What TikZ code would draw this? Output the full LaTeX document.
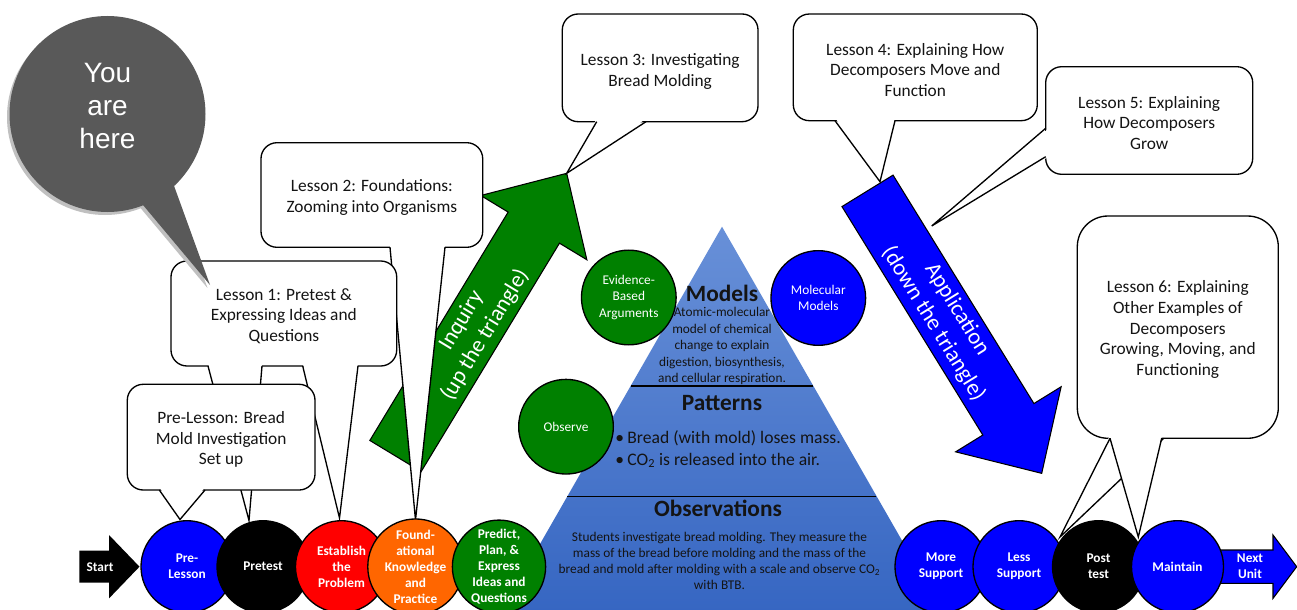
\documentclass[tikz,border=0pt]{standalone}
\usepackage{fontspec}
\setmainfont{Carlito}
\newfontfamily\arialfont{Liberation Sans}
\definecolor{bubblegray}{RGB}{89,89,89}
\definecolor{bubbleshade}{RGB}{192,192,192}
\definecolor{stepgreen}{RGB}{0,128,0}
\definecolor{stepblue}{RGB}{0,0,255}
\definecolor{steporange}{RGB}{255,102,0}
\definecolor{stepred}{RGB}{255,0,0}
\definecolor{pyrtop}{RGB}{104,144,216}
\definecolor{pyrbot}{RGB}{54,102,194}
\definecolor{ink}{RGB}{20,20,20}

% wedge tail of a callout: left base x, right base x, base y, tip
\newcommand{\calltail}[4]{%
  \fill[white] (#1,#3-3) -- (#4) -- (#2,#3-3) -- cycle;
  \draw[tailedge] (#1,#3) -- (#4) -- (#2,#3);}

\begin{document}
\begin{tikzpicture}[x=0.75pt,y=-0.75pt,
  callout/.style={draw=black, line width=1pt, fill=white, rounded corners=12pt, inner sep=0pt},
  callouttext/.style={inner sep=0pt, align=center, text=ink, yshift=-1.9pt,
    font=\fontsize{13}{15.5}\selectfont},
  tailedge/.style={draw=black, line width=1pt, line join=miter},
  stepdot/.style={circle, draw=black, line width=1pt, minimum size=69pt, inner sep=0pt,
    text=white, align=center, font=\bfseries\fontsize{10}{12}\selectfont},
  sidedot/.style={circle, draw=black, line width=1pt, minimum size=71pt, inner sep=0pt,
    text=white, align=center, font=\fontsize{10}{12.2}\selectfont},
  bigarrow/.style={draw=black, line width=0.8pt, line join=miter},
  arrowtext/.style={text=white, inner sep=0pt, font=\fontsize{17}{20.5}\selectfont},
  pyrhead/.style={font=\bfseries\fontsize{17.5}{20}\selectfont, text=ink, anchor=base, inner sep=0pt},
  pyrbody/.style={font=\fontsize{10}{12.4}\selectfont, text=ink, align=center, inner sep=0pt},
]
\useasboundingbox (0,0) rectangle (1297,610);
\clip (0,0) rectangle (1297,610);
\fill[white] (0,0) rectangle (1297,610);

% ---------- pyramid ----------
\shade[top color=pyrtop, bottom color=pyrbot] (722,226.7) -- (943,612) -- (501,612) -- cycle;
\draw[line width=1pt] (630.7,386) -- (813.3,386);
\draw[line width=1pt] (567,496.7) -- (876.4,496.7);

% ---------- big inquiry / application arrows ----------
\begin{scope}[shift={(395.5,456)}, rotate=58.8]
  \draw[bigarrow, fill=stepgreen] (0,-30) -- (267,-30) -- (267,-62) -- (330.5,0)
    -- (267,62) -- (267,30) -- (0,30) -- cycle;
\end{scope}
\begin{scope}[shift={(867.5,190.85)}, rotate=-58.34]
  \draw[bigarrow, fill=stepblue] (0,-30) -- (268.4,-30) -- (268.4,-62) -- (331.9,0)
    -- (268.4,62) -- (268.4,30) -- (0,30) -- cycle;
\end{scope}

% ---------- tail tips ----------
\coordinate (tipL3) at (566.7,173.3);
\coordinate (tipL4) at (880,181.7);
\coordinate (tipL5) at (931.7,226);
\coordinate (tipL2) at (415.5,520);
\coordinate (tipL1a) at (249,520.5);
\coordinate (tipL1b) at (339.5,518);
\coordinate (tipPre) at (180,519.5);
\coordinate (tipL6a) at (1138.3,537);
\coordinate (tipL6b) at (1060,537);

% ---------- lesson callouts ----------
\node[callout, minimum width=146.8pt, minimum height=80.8pt] (l3) at (660.15,67.85) {};
\calltail{596.7}{646}{121.7}{tipL3}
\node[callouttext, yshift=-0.8pt] (l3text) at (l3) {Lesson 3: Investigating\\Bread Molding};

\node[callout, minimum width=183pt, minimum height=80pt] (l4) at (915.3,67.35) {};
\calltail{835}{895}{120.7}{tipL4}
\node[callouttext] (l4text) at (l4) {Lesson 4: Explaining How\\Decomposers Move and\\Function};

\node[callout, minimum width=155.25pt, minimum height=80.7pt] (l5) at (1149.2,120.5) {};
\fill[white] (1048.7,128.3) -- (tipL5) -- (1048.7,156.7) -- cycle;
\draw[tailedge] (1045.7,128.3) -- (tipL5) -- (1045.7,156.7);
\node[callouttext] (l5text) at (l5) {Lesson 5: Explaining\\How Decomposers\\Grow};

\node[callout, minimum width=166.3pt, minimum height=78.45pt] (l2) at (371.85,195) {};
\calltail{390}{445}{247.3}{tipL2}
\node[callouttext] (l2text) at (l2) {Lesson 2: Foundations:\\Zooming into Organisms};

\node[callout, minimum width=169.3pt, minimum height=78.75pt] (l1) at (283.85,313.5) {};
\calltail{208}{262}{366}{tipL1a}
\calltail{302.7}{358}{366}{tipL1b}
\node[callouttext] (l1text) at (l1) {Lesson 1: Pretest \&\\Expressing Ideas and\\Questions};

\node[callout, minimum width=140.8pt, minimum height=79.3pt] (pre) at (221.15,437.15) {};
\calltail{159.3}{205}{490}{tipPre}
\node[callouttext] (pretext) at (pre) {Pre-Lesson: Bread\\Mold Investigation\\Set up};

\node[callout, rounded corners=23pt, minimum width=150.75pt, minimum height=166.7pt] (l6)
  at (1177.8,327.15) {};
\calltail{1110}{1163.7}{438.3}{tipL6b}
\calltail{1110}{1161.7}{438.3}{tipL6a}
\node[callouttext] (l6text) at (l6)
  {Lesson 6: Explaining\\Other Examples of\\Decomposers\\Growing, Moving, and\\Functioning};

% ---------- "you are here" bubble ----------
\begin{scope}[shift={(-2.5,3)}]
  \fill[bubbleshade] (107.5,114) circle[radius=73.5pt];
  \fill[bubbleshade] (173,183) -- (210,285) -- (143,205) -- cycle;
\end{scope}
\fill[bubblegray] (107.5,114) circle[radius=73.5pt];
\fill[bubblegray] (173,183) -- (210,285) -- (143,205) -- cycle;
\node[text=white, align=center, inner sep=0pt, font=\arialfont\fontsize{21}{25}\selectfont]
  (here) at (107.5,106) {You\\are\\here};

% ---------- circles around the pyramid ----------
\node[sidedot, fill=stepgreen] (evidence) at (628.8,297.5) {Evidence-\\Based\\Arguments};
\node[sidedot, fill=stepblue] (molecular) at (818.3,298) {Molecular\\Models};
\node[sidedot, fill=stepgreen] (observe) at (566,426.7) {Observe};

% ---------- pyramid text ----------
\node[pyrhead] (models) at (722,301.7) {Models};
\node[pyrbody] (modelstext) at (722,346.3)
  {Atomic-molecular\\model of chemical\\change to explain\\digestion, biosynthesis,\\and cellular respiration.};
\node[pyrhead] (patterns) at (722,410.5) {Patterns};
\node[anchor=west, inner sep=0pt, align=left, text=ink, font=\fontsize{13.2}{16.3}\selectfont]
  (patternstext) at (615,449.2)
  {\textbullet\hspace{2.5pt}Bread (with mold) loses mass.\\\textbullet\hspace{2.5pt}CO\textsubscript{2} is released into the air.};
\node[pyrhead] (observations) at (718,516.7) {Observations};
\node[pyrbody, font=\fontsize{10}{12.1}\selectfont] (obstext) at (719.5,561)
  {Students investigate bread molding. They measure the\\mass of the bread before molding and the mass of the\\bread and mold after molding with a scale and observe CO\textsubscript{2}\\with BTB.};

% ---------- start / next unit arrows ----------
\fill[black] (79.3,550.7) -- (109,550.7) -- (109,535) -- (139.5,566.7) -- (109,598.4)
  -- (109,582.7) -- (79.3,582.7) -- cycle;
\node[text=white, inner sep=0pt, font=\bfseries\fontsize{10}{12}\selectfont] (start) at (100,566.7) {Start};
\draw[bigarrow, fill=stepblue] (1215,550) -- (1273,550) -- (1273,535) -- (1296.7,566.7)
  -- (1273,598.4) -- (1273,583.4) -- (1215,583.4) -- cycle;
\node[text=white, inner sep=0pt, align=center, font=\bfseries\fontsize{10}{12}\selectfont]
  (nextunit) at (1250,566.7) {Next\\Unit};

% ---------- lesson sequence circles ----------
\node[stepdot, fill=stepblue] (prelesson) at (187,566.7) {Pre-\\Lesson};
\node[stepdot, fill=black] (pretest) at (263,566.7) {Pretest};
\node[stepdot, fill=stepred] (establish) at (341.5,566.7) {Establish\\the\\Problem};
\node[stepdot, fill=steporange] (found) at (415.5,566.7) {Found-\\ational\\Knowledge\\and\\Practice};
\node[stepdot, fill=stepgreen] (predict) at (499,566.7) {Predict,\\Plan, \&\\Express\\Ideas and\\Questions};
\node[stepdot, fill=stepblue] (more) at (941,566.7) {More\\Support};
\node[stepdot, fill=stepblue] (less) at (1019,566.7) {Less\\Support};
\node[stepdot, fill=black] (post) at (1098.5,566.7) {Post\\test};
\node[stepdot, fill=stepblue] (maintain) at (1177.5,566.7) {Maintain};

% ---------- arrow captions (one node per line, along each arrow) ----------
\node[arrowtext, rotate=58.8] (inquiry) at (461.5,320.6) {Inquiry};
\node[arrowtext, rotate=58.8] (inquirysub) at (484.9,334.8) {(up the triangle)};
\node[arrowtext, rotate=-58.34] (application) at (956.9,309.6) {Application};
\node[arrowtext, rotate=-58.34] (applicationsub) at (933.5,324) {(down the triangle)};
\end{tikzpicture}
\end{document}
